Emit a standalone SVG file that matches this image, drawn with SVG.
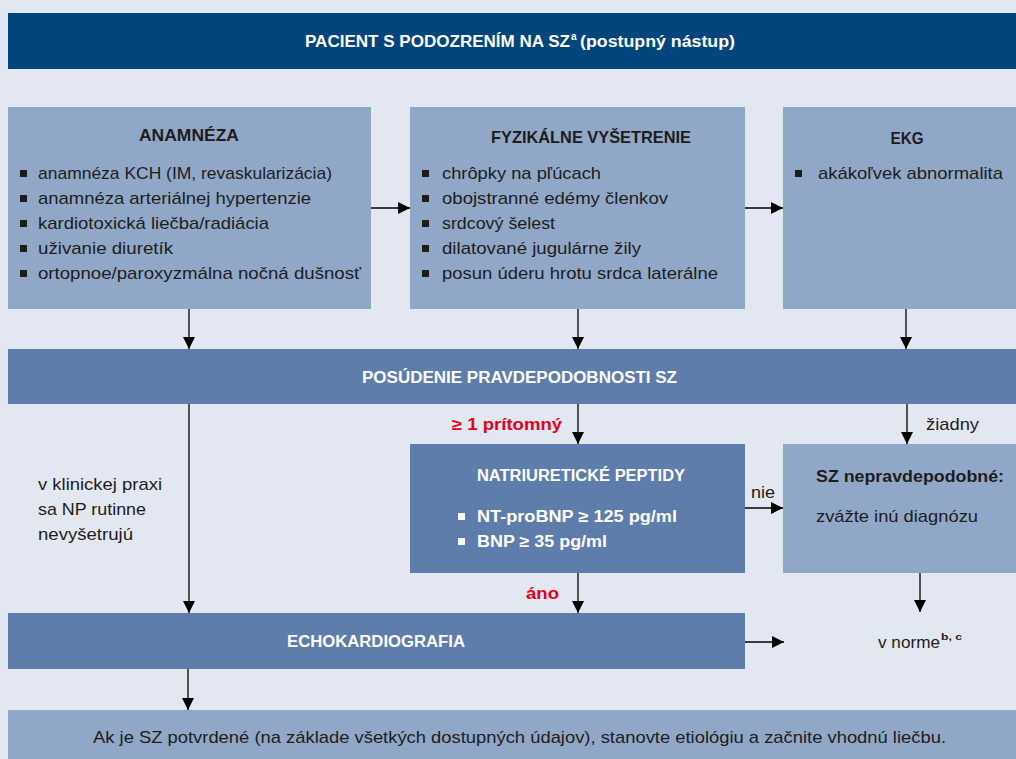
<svg xmlns="http://www.w3.org/2000/svg" width="1016" height="759" viewBox="0 0 1016 759">
<style>
.bg{fill:#e3e7f2}
.hdr{fill:#00457c}
.lt{fill:#91a7c8}
.md{fill:#5e7dab}
text{font-family:"Liberation Sans",Arial,sans-serif}
.t{font-size:17px;fill:#1d1d1b}
.tb{font-size:16.5px;font-weight:bold;fill:#1d1d1b}
.wb{font-size:16px;font-weight:bold;fill:#ffffff}
.red{font-size:16px;font-weight:bold;fill:#e2001a}
.sup{font-size:10px;fill:#ffffff;font-weight:bold}
.bl{fill:#1d1d1b}
.bw{fill:#ffffff}
.c{stroke:#000;stroke-width:1.3;fill:none;marker-end:url(#ah)}
</style>
<defs>
<marker id="ah" markerUnits="userSpaceOnUse" markerWidth="13" markerHeight="13" refX="12" refY="6" orient="auto">
<path d="M0,0 L12,6 L0,12 z" fill="#000"/>
</marker>
</defs>
<rect class="bg" x="0" y="0" width="1016" height="759"/>

<g id="header">
<rect class="hdr" x="8" y="13" width="1008" height="56"/>
<text class="wb" x="305" y="47" textLength="265" lengthAdjust="spacingAndGlyphs">PACIENT S PODOZRENÍM NA SZ</text>
<text class="sup" x="571" y="40" font-weight="normal">a</text>
<text class="wb" x="580" y="47" textLength="155" lengthAdjust="spacingAndGlyphs">(postupný nástup)</text>
</g>

<g id="anamneza">
<rect class="lt" x="8" y="107" width="363" height="202"/>
<text class="tb" x="189" y="141" text-anchor="middle" textLength="100" lengthAdjust="spacingAndGlyphs">ANAMNÉZA</text>
<rect class="bl" x="20" y="170" width="7" height="7"/>
<rect class="bl" x="20" y="195" width="7" height="7"/>
<rect class="bl" x="20" y="220" width="7" height="7"/>
<rect class="bl" x="20" y="245" width="7" height="7"/>
<rect class="bl" x="20" y="270" width="7" height="7"/>
<text class="t" x="38" y="179" textLength="294" lengthAdjust="spacingAndGlyphs">anamnéza KCH (IM, revaskularizácia)</text>
<text class="t" x="38" y="204" textLength="273" lengthAdjust="spacingAndGlyphs">anamnéza arteriálnej hypertenzie</text>
<text class="t" x="38" y="229" textLength="231" lengthAdjust="spacingAndGlyphs">kardiotoxická liečba/radiácia</text>
<text class="t" x="38" y="254" textLength="135" lengthAdjust="spacingAndGlyphs">uživanie diuretík</text>
<text class="t" x="38" y="279" textLength="323" lengthAdjust="spacingAndGlyphs">ortopnoe/paroxyzmálna nočná dušnosť</text>
</g>

<g id="fyzikalne">
<rect class="lt" x="410" y="107" width="335" height="202"/>
<text class="tb" x="591" y="143" text-anchor="middle" textLength="200" lengthAdjust="spacingAndGlyphs">FYZIKÁLNE VYŠETRENIE</text>
<rect class="bl" x="422" y="170" width="7" height="7"/>
<rect class="bl" x="422" y="195" width="7" height="7"/>
<rect class="bl" x="422" y="220" width="7" height="7"/>
<rect class="bl" x="422" y="245" width="7" height="7"/>
<rect class="bl" x="422" y="270" width="7" height="7"/>
<text class="t" x="442" y="179" textLength="159" lengthAdjust="spacingAndGlyphs">chrôpky na pľúcach</text>
<text class="t" x="442" y="204" textLength="226" lengthAdjust="spacingAndGlyphs">obojstranné edémy členkov</text>
<text class="t" x="442" y="229" textLength="113" lengthAdjust="spacingAndGlyphs">srdcový šelest</text>
<text class="t" x="442" y="254" textLength="199" lengthAdjust="spacingAndGlyphs">dilatované jugulárne žily</text>
<text class="t" x="442" y="279" textLength="276" lengthAdjust="spacingAndGlyphs">posun úderu hrotu srdca laterálne</text>
</g>

<g id="ekg">
<rect class="lt" x="783" y="107" width="233" height="202"/>
<text class="tb" x="907" y="144" text-anchor="middle" textLength="33" lengthAdjust="spacingAndGlyphs">EKG</text>
<rect class="bl" x="795" y="170" width="7" height="7"/>
<text class="t" x="818" y="179" textLength="185" lengthAdjust="spacingAndGlyphs">akákoľvek abnormalita</text>
</g>

<g id="posudenie">
<rect class="md" x="8" y="349" width="1008" height="55"/>
<text class="wb" x="362" y="383" textLength="315" lengthAdjust="spacingAndGlyphs">POSÚDENIE PRAVDEPODOBNOSTI SZ</text>
</g>

<g id="natriureticke">
<rect class="md" x="410" y="444" width="335" height="129"/>
<text class="wb" x="477" y="481" textLength="208" lengthAdjust="spacingAndGlyphs">NATRIURETICKÉ PEPTIDY</text>
<rect class="bw" x="458" y="513" width="7" height="7"/>
<rect class="bw" x="458" y="538" width="7" height="7"/>
<text class="wb" x="477" y="522" textLength="200" lengthAdjust="spacingAndGlyphs">NT-proBNP ≥ 125 pg/ml</text>
<text class="wb" x="477" y="547" textLength="130" lengthAdjust="spacingAndGlyphs">BNP ≥ 35 pg/ml</text>
</g>

<g id="sz-nepravdepodobne">
<rect class="lt" x="783" y="444" width="233" height="129"/>
<text class="tb" x="816" y="482" textLength="188" lengthAdjust="spacingAndGlyphs">SZ nepravdepodobné:</text>
<text class="t" x="816" y="522" textLength="162" lengthAdjust="spacingAndGlyphs">zvážte inú diagnózu</text>
</g>

<g id="echokardiografia">
<rect class="md" x="8" y="613" width="737" height="56"/>
<text class="wb" x="287" y="647" textLength="178" lengthAdjust="spacingAndGlyphs">ECHOKARDIOGRAFIA</text>
</g>

<g id="v-norme">
<text class="t" x="878" y="648" textLength="62" lengthAdjust="spacingAndGlyphs">v norme</text>
<text x="941" y="640" font-size="9.5" font-weight="bold" fill="#1d1d1b" textLength="21" lengthAdjust="spacingAndGlyphs">b, c</text>
</g>

<g id="zaver">
<rect class="lt" x="8" y="710" width="1008" height="49"/>
<text class="t" x="93" y="743" textLength="853" lengthAdjust="spacingAndGlyphs">Ak je SZ potvrdené (na základe všetkých dostupných údajov), stanovte etiológiu a začnite vhodnú liečbu.</text>
</g>

<g id="connectors">
<line class="c" x1="371" y1="208" x2="410" y2="208"/>
<line class="c" x1="745" y1="208" x2="783" y2="208"/>
<line class="c" x1="189" y1="309" x2="189" y2="349"/>
<line class="c" x1="578" y1="309" x2="578" y2="349"/>
<line class="c" x1="906" y1="309" x2="906" y2="349"/>
<line class="c" x1="189" y1="404" x2="189" y2="613"/>
<line class="c" x1="578" y1="404" x2="578" y2="444"/>
<line class="c" x1="907" y1="404" x2="907" y2="444"/>
<line class="c" x1="745" y1="508" x2="783" y2="508"/>
<line class="c" x1="578" y1="573" x2="578" y2="613"/>
<line class="c" x1="920" y1="573" x2="920" y2="612"/>
<line class="c" x1="745" y1="642" x2="784" y2="642"/>
<line class="c" x1="188" y1="669" x2="188" y2="710"/>
<text class="t" x="38" y="490" textLength="124" lengthAdjust="spacingAndGlyphs">v klinickej praxi</text>
<text class="t" x="38" y="515" textLength="108" lengthAdjust="spacingAndGlyphs">sa NP rutinne</text>
<text class="t" x="38" y="540" textLength="95" lengthAdjust="spacingAndGlyphs">nevyšetrujú</text>
<text class="red" x="452" y="430" textLength="110" lengthAdjust="spacingAndGlyphs">≥ 1 prítomný</text>
<text class="t" x="926" y="430" textLength="53" lengthAdjust="spacingAndGlyphs">žiadny</text>
<text class="t" x="751" y="498" textLength="24" lengthAdjust="spacingAndGlyphs">nie</text>
<text class="red" x="526" y="599" textLength="33" lengthAdjust="spacingAndGlyphs">áno</text>
</g>
</svg>
